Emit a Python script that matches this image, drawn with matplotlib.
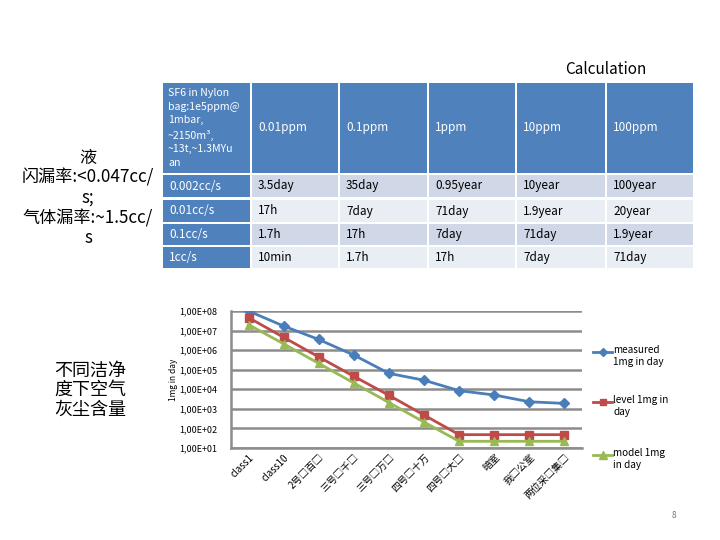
import matplotlib
matplotlib.use('Agg')
import matplotlib.pyplot as plt
from matplotlib.patches import Rectangle
from matplotlib.lines import Line2D
from matplotlib.ticker import FixedLocator, NullLocator

plt.rcParams['font.family'] = ['Noto Sans CJK SC', 'DejaVu Sans']

# table data
col_heads = ['SF6 in Nylon\nbag:1e5ppm@\n1mbar,\n~2150m³,\n~13t,~1.3MYu\nan',
             '0.01ppm', '0.1ppm', '1ppm', '10ppm', '100ppm']
row_heads = ['0.002cc/s', '0.01cc/s', '0.1cc/s', '1cc/s']
cells = [['3.5day', '35day', '0.95year', '10year', '100year'],
         ['17h', '7day', '71day', '1.9year', '20year'],
         ['1.7h', '17h', '7day', '71day', '1.9year'],
         ['10min', '1.7h', '17h', '7day', '71day']]

# chart data
categories = ['class1', 'class10', '2号□百□', '三号□千□', '三号□万□',
              '四号□十万', '四号□大□', '暗室', '我□公室', '两位采□集□']
measured = [1e8, 1.7e7, 3.5e6, 5.6e5, 6.5e4, 2.9e4, 8.5e3, 5.1e3, 2.3e3, 1.9e3]
level = [4.6e7, 4.5e6, 4.5e5, 4.6e4, 4.9e3, 4.8e2, 48, 48, 48, 48]
model = [2e7, 2.1e6, 2.1e5, 2.1e4, 2.1e3, 2.1e2, 22, 22, 22, 22]
series_names = ['measured\n1mg in day', 'level 1mg in\nday', 'model 1mg\nin day']
ytick_labels = ['1,00E+01', '1,00E+02', '1,00E+03', '1,00E+04',
                '1,00E+05', '1,00E+06', '1,00E+07', '1,00E+08']

W, H = 720, 540
fig = plt.figure(figsize=(7.2, 5.4), dpi=100)


def fx(px):
    return px / W


def fy(py):
    return 1 - py / H


blue = '#4F81BD'
# table geometry (pixels)
xs = [163, 252, 340, 429, 517, 607]
ws = [87, 86, 87, 86, 88, 86]
ys = [83, 175, 200, 224, 247]
hs = [90, 22, 22, 21, 21]

for j in range(6):
    fig.add_artist(Rectangle((fx(xs[j]), fy(ys[0] + hs[0])), fx(ws[j]), hs[0] / H,
                             facecolor=blue, edgecolor='none'))
    if j == 0:
        fig.text(fx(xs[j] + 5), fy(ys[0] + hs[0] / 2), col_heads[j], color='white',
                 fontsize=7.6, va='center', ha='left', linespacing=1.45)
    else:
        fig.text(fx(xs[j] + 6), fy(ys[0] + hs[0] / 2), col_heads[j], color='white',
                 fontsize=8.5, va='center', ha='left')

for i in range(4):
    y0, h = ys[i + 1], hs[i + 1]
    light = '#D0D8E8' if i % 2 == 0 else '#E9EDF4'
    for j in range(6):
        fc = blue if j == 0 else light
        fig.add_artist(Rectangle((fx(xs[j]), fy(y0 + h)), fx(ws[j]), h / H,
                                 facecolor=fc, edgecolor='none'))
        txt = row_heads[i] if j == 0 else cells[i][j - 1]
        fig.text(fx(xs[j] + 6), fy(y0 + h / 2), txt,
                 color='white' if j == 0 else 'black',
                 fontsize=8.5, va='center', ha='left')

fig.text(fx(606), fy(69), 'Calculation', fontsize=11, ha='center', va='center')
fig.text(fx(88), fy(198), '液\n闪漏率:<0.047cc/\ns;\n气体漏率:~1.5cc/\ns',
         fontsize=12.3, ha='center', va='center', linespacing=1.15)
fig.text(fx(90), fy(390), '不同洁净\n度下空气\n灰尘含量',
         fontsize=13, ha='center', va='center', linespacing=1.1)
fig.text(fx(674), fy(515), '8', fontsize=6, color='#777777', ha='center', va='center')

# chart
ax = fig.add_axes([fx(231), fy(448), fx(582 - 231), (448 - 311) / H])
ax.set_yscale('log')
ax.set_ylim(1e1, 1e8)
grid_c = '#8C8C8C'
l1, = ax.plot(categories, measured, color='#4A7EBB', lw=2, marker='D', ms=5, zorder=3)
l2, = ax.plot(categories, level, color='#BE4B48', lw=2, marker='s', ms=5.5, zorder=3)
l3, = ax.plot(categories, model, color='#98B954', lw=2, marker='^', ms=6, zorder=3)
ax.set_xlim(-0.5, 9.5)
ax.yaxis.set_major_locator(FixedLocator([10.0 ** k for k in range(1, 9)]))
ax.yaxis.set_minor_locator(NullLocator())
ax.set_yticklabels(ytick_labels, fontsize=6.5)
ax.tick_params(axis='y', length=0, pad=10)
ax.tick_params(axis='x', length=0, pad=3)
ax.grid(axis='y', color=grid_c, lw=1.8)
ax.set_axisbelow(True)
for s in ['top', 'right']:
    ax.spines[s].set_visible(False)
ax.spines['left'].set_color(grid_c)
ax.spines['left'].set_linewidth(1.8)
ax.spines['bottom'].set_color(grid_c)
ax.spines['bottom'].set_linewidth(1.8)
plt.setp(ax.get_xticklabels(), rotation=45, ha='right', rotation_mode='anchor', fontsize=7)
ax.set_ylabel('1mg in day', fontsize=6, labelpad=1)

# legend
leg_y = [352, 402, 455]
for line, name, yy in zip([l1, l2, l3], series_names, leg_y):
    fig.add_artist(Line2D([fx(593), fx(612)], [fy(yy), fy(yy)], color=line.get_color(),
                          lw=2, transform=fig.transFigure))
    fig.add_artist(Line2D([fx(602.5)], [fy(yy)], color=line.get_color(),
                          marker=line.get_marker(), ms=line.get_markersize() - 0.5,
                          transform=fig.transFigure))
    fig.text(fx(613), fy(yy - 7), name, fontsize=7.2, ha='left', va='top',
             linespacing=1.3)

fig.savefig('out.png', dpi=100)
